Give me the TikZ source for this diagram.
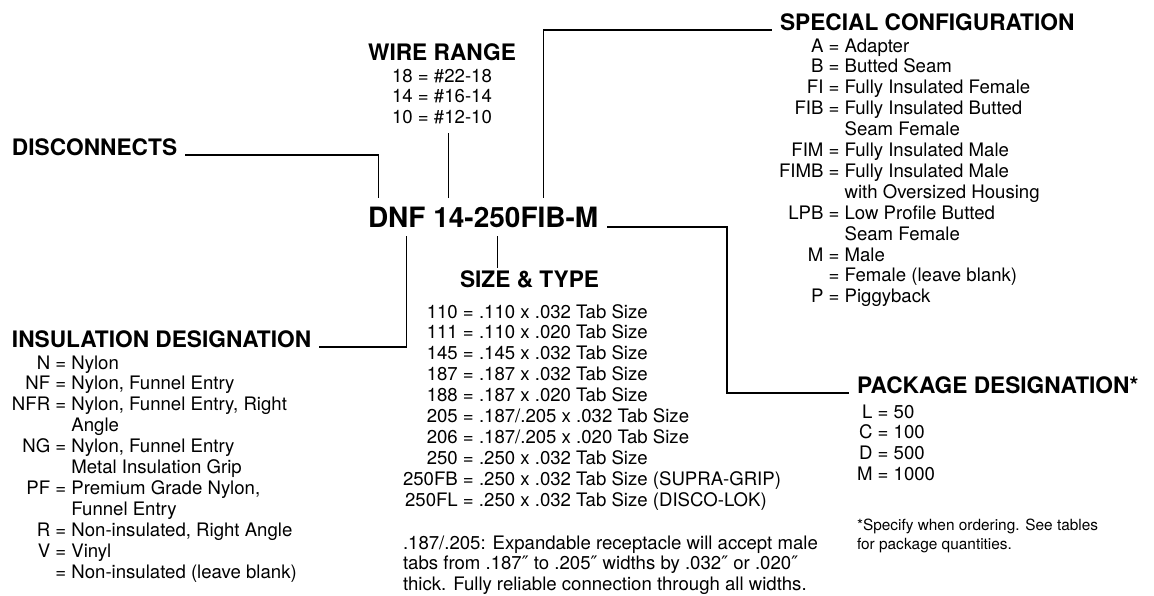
\documentclass[tikz,border=0pt]{standalone}
\usepackage{fontspec}
\setmainfont{TeX Gyre Heros}
\newfontfamily\primefont{DejaVu Sans}
\newcommand{\dprime}{{\primefont ″}}
\usepackage{tikz}
\usetikzlibrary{positioning,calc}

\begin{document}
\begin{tikzpicture}[
  x=1pt, y=1pt,
  line width=1.1pt,
  head/.style={font=\bfseries\fontsize{22.7}{26}\selectfont, inner xsep=8pt, inner ysep=0pt, outer sep=0pt, anchor=base west},
  part/.style={font=\bfseries\fontsize{28}{30}\selectfont, inner xsep=0pt, inner ysep=9pt, outer sep=0pt, anchor=base west},
  list/.style={font=\fontsize{18.6}{20.9}\selectfont, inner sep=0pt, outer sep=0pt, anchor=base west},
  note/.style={font=\fontsize{15.4}{18.5}\selectfont, inner sep=0pt, outer sep=0pt, anchor=base west},
]
\useasboundingbox (0,0) rectangle (1154,-595);

\node[part] (pD) at (368,-227) {D};
\node[part] (pNF) at (pD.base east) {NF};
\node[part, xshift=7.8pt] (pWR) at (pNF.base east) {14};
\node[part] (pH1) at (pWR.base east) {-};
\node[part] (pST) at (pH1.base east) {250};
\node[part] (pSC) at (pST.base east) {FIB};
\node[part] (pH2) at (pSC.base east) {-};
\node[part] (pPK) at (pH2.base east) {M};

\node[head] (disc) at (4,-155) {DISCONNECTS};
\draw (disc.base east) -| (pD.north);

\node[head, anchor=base] (wire) at (442,-60) {WIRE RANGE};
\node[list, anchor=base] (wr) at (442,-82) {\begin{tabular}[t]{@{}c@{}}
18 = \#22-18\\ 14 = \#16-14\\ 10 = \#12-10
\end{tabular}};
\draw[shorten >=3pt] (pWR.north) -- (pWR.north |- wr.south);

\node[head] (spec) at (772,-30) {SPECIAL CONFIGURATION};
\node[list] (sp) at (779,-52) {\begin{tabular}[t]{@{}r@{\ }c@{\ }l@{}}
A & = & Adapter\\
B & = & Butted Seam\\
FI & = & Fully Insulated Female\\
FIB & = & Fully Insulated Butted\\
 & & Seam Female\\
FIM & = & Fully Insulated Male\\
FIMB & = & Fully Insulated Male\\
 & & with Oversized Housing\\
LPB & = & Low Profile Butted\\
 & & Seam Female\\
M & = & Male\\
 & = & Female (leave blank)\\
P & = & Piggyback
\end{tabular}};
\draw (pSC.north) |- (spec.base west);

\node[head] (size) at (452,-287) {SIZE \& TYPE};
\draw[shorten >=2pt] (pST.south) -- (pST.south |- size.north);
\node[list] (st) at (403,-318) {\begin{tabular}[t]{@{}r@{\ }c@{\ }l@{}}
110 & = & .110 x .032 Tab Size\\
111 & = & .110 x .020 Tab Size\\
145 & = & .145 x .032 Tab Size\\
187 & = & .187 x .032 Tab Size\\
188 & = & .187 x .020 Tab Size\\
205 & = & .187/.205 x .032 Tab Size\\
206 & = & .187/.205 x .020 Tab Size\\
250 & = & .250 x .032 Tab Size\\
250FB & = & .250 x .032 Tab Size (SUPRA-GRIP)\\
250FL & = & .250 x .032 Tab Size (DISCO-LOK)
\end{tabular}};
\node[list] (expd) at (403,-549) {\begin{tabular}[t]{@{}l@{}}
.187/.205: Expandable receptacle will accept male\\
tabs from .187\dprime{} to .205\dprime{} widths by .032\dprime{} or .020\dprime\\
thick. Fully reliable connection through all widths.
\end{tabular}};

\node[head] (ins) at (4,-347) {INSULATION DESIGNATION};
\draw (ins.base east) -| (pNF.south);
\node[list] (in) at (12,-369) {\begin{tabular}[t]{@{}r@{\ }c@{\ }l@{}}
N & = & Nylon\\
NF & = & Nylon, Funnel Entry\\
NFR & = & Nylon, Funnel Entry, Right\\
 & & Angle\\
NG & = & Nylon, Funnel Entry\\
 & & Metal Insulation Grip\\
PF & = & Premium Grade Nylon,\\
 & & Funnel Entry\\
R & = & Non-insulated, Right Angle\\
V & = & Vinyl\\
 & = & Non-insulated (leave blank)
\end{tabular}};

\node[head] (pkg) at (849,-393) {PACKAGE DESIGNATION*};
\coordinate (pkbend) at (727,-393);
\draw[shorten <=9pt] (pPK.base east) -| (pkbend) -- (pkg.base west);
\node[list] (pk) at (857,-418) {\begin{tabular}[t]{@{}r@{\ }c@{\ }l@{}}
L & = & 50\\
C & = & 100\\
D & = & 500\\
M & = & 1000
\end{tabular}};
\node[note] (fn) at (857,-530.5) {\begin{tabular}[t]{@{}l@{}}
*Specify when ordering. See tables\\ for package quantities.
\end{tabular}};
\end{tikzpicture}
\end{document}
